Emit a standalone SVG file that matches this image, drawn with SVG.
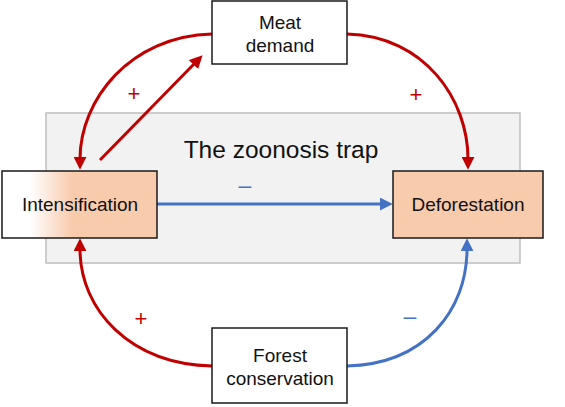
<svg xmlns="http://www.w3.org/2000/svg" width="565" height="407" viewBox="0 0 565 407">
<style>
.box{stroke:#1a1a1a;stroke-width:1.5}
.lbl{font-family:"Liberation Sans",Arial,sans-serif;font-size:19px;fill:#111;text-anchor:middle}
.red{fill:none;stroke:#c00000;stroke-width:3}
.blue{fill:none;stroke:#4472c4;stroke-width:3}
.sr{font-family:"Liberation Sans",Arial,sans-serif;font-size:22px;fill:#c00000;text-anchor:middle}
.sb{font-family:"Liberation Sans",Arial,sans-serif;font-size:23px;fill:#4472c4;text-anchor:middle}
</style>
<defs>
<marker id="ar" viewBox="0 0 12 12" markerWidth="13" markerHeight="13" refX="2" refY="6" orient="auto" markerUnits="userSpaceOnUse"><path d="M0,0 L12,6 L0,12 z" fill="#c00000"/></marker>
<marker id="ab" viewBox="0 0 12 12" markerWidth="13" markerHeight="13" refX="2" refY="6" orient="auto" markerUnits="userSpaceOnUse"><path d="M0,0 L12,6 L0,12 z" fill="#4472c4"/></marker>
<linearGradient id="grad" x1="0" y1="0" x2="1" y2="0">
<stop offset="0.18" stop-color="#ffffff"/>
<stop offset="0.45" stop-color="#f8cbad"/>
</linearGradient>
</defs>
<rect id="trap" x="46" y="113" width="474" height="150" fill="#f2f2f2" stroke="#bfbfbf" stroke-width="1.5"/>
<text x="281" y="158" font-family="Liberation Sans,Arial,sans-serif" font-size="24.5" fill="#111" text-anchor="middle">The zoonosis trap</text>
<g id="connectors">
<path class="red" d="M212,34 C130,36 80,100 80,159" marker-end="url(#ar)"/>
<path class="red" d="M100,160 L195,63" marker-end="url(#ar)"/>
<path class="red" d="M347,34 C425,36 468,100 468,159" marker-end="url(#ar)"/>
<path class="blue" d="M157,204 L382,204" marker-end="url(#ab)"/>
<path class="red" d="M212,366 C130,364 80,310 80,249" marker-end="url(#ar)"/>
<path class="blue" d="M347,366 C425,364 467,310 467,249" marker-end="url(#ab)"/>
<text class="sr" x="134" y="101">+</text>
<text class="sr" x="416" y="102">+</text>
<text class="sb" x="245" y="193">–</text>
<text class="sr" x="141" y="326">+</text>
<text class="sb" x="410" y="324">–</text>
</g>
<g id="meat">
<rect class="box" x="212" y="1" width="135" height="63" fill="#fff"/>
<text class="lbl" x="280" y="29">Meat</text>
<text class="lbl" x="280" y="52">demand</text>
</g>
<g id="intensification">
<rect class="box" x="2" y="171" width="155" height="67" fill="url(#grad)"/>
<text class="lbl" x="80" y="211">Intensification</text>
</g>
<g id="deforestation">
<rect class="box" x="393" y="171" width="150" height="67" fill="#f8cbad"/>
<text class="lbl" x="468" y="211">Deforestation</text>
</g>
<g id="forest">
<rect class="box" x="212" y="328" width="135" height="75" fill="#fff"/>
<text class="lbl" x="280" y="362">Forest</text>
<text class="lbl" x="280" y="385">conservation</text>
</g>
</svg>
